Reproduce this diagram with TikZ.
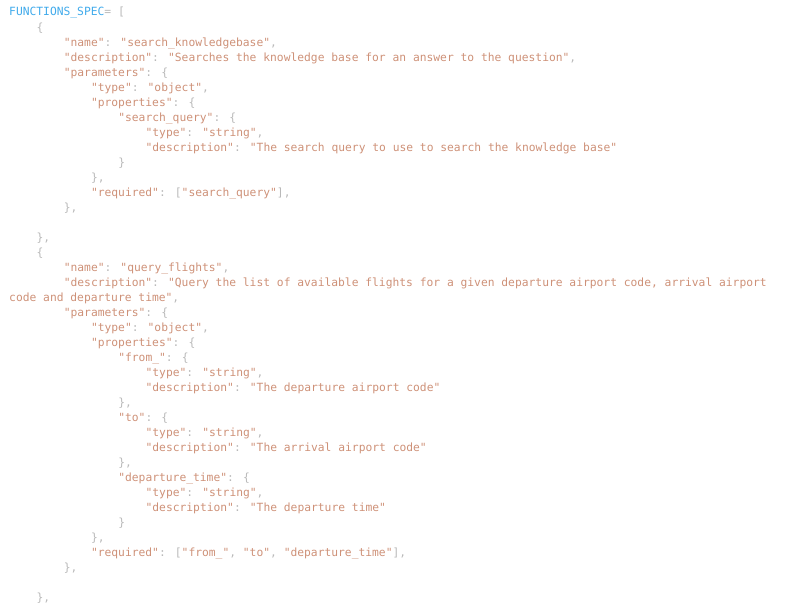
\documentclass[tikz,border=0pt]{standalone}
\usepackage{fontspec}
\usepackage{xcolor}
\newfontfamily\codefont{DejaVu Sans Mono}
\definecolor{codeblue}{RGB}{64,170,235}
\definecolor{strtan}{RGB}{206,145,120}
\definecolor{punctgray}{RGB}{185,185,185}
\newcommand{\q}[1]{\textcolor{strtan}{"#1"}}
\newcommand{\qo}[1]{\textcolor{strtan}{"#1}}
\newcommand{\qc}[1]{\textcolor{strtan}{#1"}}

\begin{document}
\begin{tikzpicture}[x=1pt,y=1pt,
    codeline/.style={anchor=base west, inner sep=0pt, text=punctgray,
      font=\codefont\fontsize{11.3}{15}\selectfont}]
    \useasboundingbox (0,0) rectangle (796,-613);
    % first function
    \node[codeline] (l0) at (9,-16) {\textcolor{codeblue}{FUNCTIONS\_SPEC}= [};
    \node[codeline] (l1) at (36.3,-31) {\{};
    \node[codeline] (l2) at (63.6,-46) {\q{name}: \q{search\_knowledgebase},};
    \node[codeline] (l3) at (63.6,-61) {\q{description}: \q{Searches the knowledge base for an answer to the question},};
    \node[codeline] (l4) at (63.6,-76) {\q{parameters}: \{};
    \node[codeline] (l5) at (90.8,-91) {\q{type}: \q{object},};
    \node[codeline] (l6) at (90.8,-106) {\q{properties}: \{};
    \node[codeline] (l7) at (118.1,-121) {\q{search\_query}: \{};
    \node[codeline] (l8) at (145.4,-136) {\q{type}: \q{string},};
    \node[codeline] (l9) at (145.4,-151) {\q{description}: \q{The search query to use to search the knowledge base}};
    \node[codeline] (l10) at (118.1,-166) {\}};
    \node[codeline] (l11) at (90.8,-181) {\},};
    \node[codeline] (l12) at (90.8,-196) {\q{required}: [\q{search\_query}],};
    \node[codeline] (l13) at (63.6,-211) {\},};
    \node[codeline] (l15) at (36.3,-241) {\},};
    % second function
    \node[codeline] (l16) at (36.3,-256) {\{};
    \node[codeline] (l17) at (63.6,-271) {\q{name}: \q{query\_flights},};
    \node[codeline] (l18) at (63.6,-286) {\q{description}: \qo{Query the list of available flights for a given departure airport code, arrival airport}};
    \node[codeline] (l19) at (9,-301) {\qc{code and departure time},};
    \node[codeline] (l20) at (63.6,-316) {\q{parameters}: \{};
    \node[codeline] (l21) at (90.8,-331) {\q{type}: \q{object},};
    \node[codeline] (l22) at (90.8,-346) {\q{properties}: \{};
    \node[codeline] (l23) at (118.1,-361) {\q{from\_}: \{};
    \node[codeline] (l24) at (145.4,-376) {\q{type}: \q{string},};
    \node[codeline] (l25) at (145.4,-391) {\q{description}: \q{The departure airport code}};
    \node[codeline] (l26) at (118.1,-406) {\},};
    \node[codeline] (l27) at (118.1,-421) {\q{to}: \{};
    \node[codeline] (l28) at (145.4,-436) {\q{type}: \q{string},};
    \node[codeline] (l29) at (145.4,-451) {\q{description}: \q{The arrival airport code}};
    \node[codeline] (l30) at (118.1,-466) {\},};
    \node[codeline] (l31) at (118.1,-481) {\q{departure\_time}: \{};
    \node[codeline] (l32) at (145.4,-496) {\q{type}: \q{string},};
    \node[codeline] (l33) at (145.4,-511) {\q{description}: \q{The departure time}};
    \node[codeline] (l34) at (118.1,-526) {\}};
    \node[codeline] (l35) at (90.8,-541) {\},};
    \node[codeline] (l36) at (90.8,-556) {\q{required}: [\q{from\_}, \q{to}, \q{departure\_time}],};
    \node[codeline] (l37) at (63.6,-571) {\},};
    \node[codeline] (l39) at (36.3,-601) {\},};
\end{tikzpicture}
\end{document}
